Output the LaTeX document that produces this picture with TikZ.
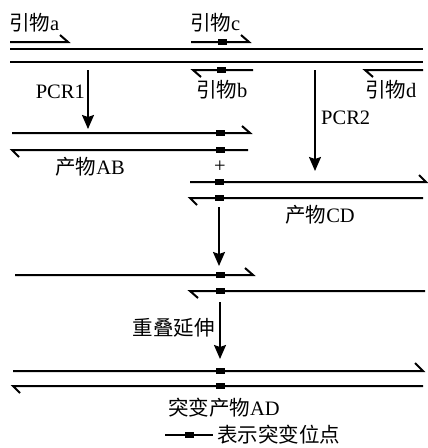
\documentclass[tikz,border=0pt]{standalone}
\usepackage{fontspec}
\setmainfont{Liberation Serif}
\newfontfamily\cjk{Noto Sans CJK SC}
\usetikzlibrary{arrows.meta}
\newcommand{\zh}[1]{{\cjk #1}}
\tikzset{
  strand/.style={line width=2pt, line join=miter},
  mut/.style={fill=black, draw=none, minimum width=9pt, minimum height=6pt, inner sep=0pt, rectangle},
  flow/.style={line width=1.8pt, -{Stealth[length=14pt,width=12pt,inset=2pt]}},
  lbl/.style={font=\fontsize{20.5}{24}\selectfont, inner sep=0pt},
}
\begin{document}
\begin{tikzpicture}[x=1pt,y=-1pt]
\useasboundingbox (0,0) rectangle (428,448);
% template
\draw[strand] (10,49) -- (423,49);
\draw[strand] (10,62) -- (423,62);
% primers
\draw[strand] (10,42) -- (68,42) -- (60,35);
\node[lbl,anchor=west] (pa) at (9,23) {\zh{引物}a};
\draw[strand] (191,42) -- (249,42) -- (241,35);
\node[mut] (mc) at (222,42) {};
\node[lbl,anchor=west] (pc) at (190,23) {\zh{引物}c};
\draw[strand] (253,70) -- (193,70) -- (201,77);
\node[mut] (mb) at (221,70) {};
\node[lbl,anchor=west] (pb) at (196,90) {\zh{引物}b};
\draw[strand] (423,70) -- (365,70) -- (373,77);
\node[lbl,anchor=west] (pd) at (365,90) {\zh{引物}d};
% PCR arrows
\coordinate (p1s) at (88,70); \coordinate (p1e) at (88,129);
\draw[flow] (p1s) -- (p1e);
\node[lbl,anchor=east] (pcr1) at (85,92) {PCR1};
\coordinate (p2s) at (315,70); \coordinate (p2e) at (315,171);
\draw[flow] (p2s) -- (p2e);
\node[lbl,anchor=west] (pcr2) at (321,118) {PCR2};
% product AB
\draw[strand] (12,133) -- (250,133) -- (242,126);
\draw[strand] (248,150) -- (12,150) -- (19,157);
\node[mut] at (220,133) {};
\node[mut] at (220,150) {};
\node[lbl] (ab) at (90,167) {\zh{产物}AB};
\node[lbl] (plus) at (220,167) {+};
% product CD
\draw[strand] (190,182) -- (426,182) -- (419,175);
\draw[strand] (423,198) -- (190,198) -- (197,205);
\node[mut] at (219,182) {};
\node[mut] at (219,198) {};
\node[lbl] (cd) at (320,215) {\zh{产物}CD};
% arrow 3
\coordinate (a3s) at (219,207); \coordinate (a3e) at (219,266);
\draw[flow] (a3s) -- (a3e);
% row 3
\draw[strand] (15,275) -- (253,275) -- (245,268);
\draw[strand] (425,291) -- (190,291) -- (198,298);
\node[mut] at (220,275) {};
\node[mut] at (220,291) {};
% arrow 4
\coordinate (a4s) at (220,302); \coordinate (a4e) at (220,359);
\draw[flow] (a4s) -- (a4e);
\node[lbl,anchor=east] (ov) at (215,328) {\zh{重叠延伸}};
% row 4
\draw[strand] (13,371) -- (423,371) -- (415,363);
\draw[strand] (423,386) -- (13,386) -- (20,393);
\node[mut] at (220,371) {};
\node[mut] at (220,386) {};
\node[lbl] (ad) at (224,408) {\zh{突变产物}AD};
% legend
\draw[strand] (165,435) -- (213,435);
\node[mut] (lm) at (189,435) {};
\node[lbl,anchor=west] (leg) at (217,435) {\zh{表示突变位点}};
\end{tikzpicture}
\end{document}
